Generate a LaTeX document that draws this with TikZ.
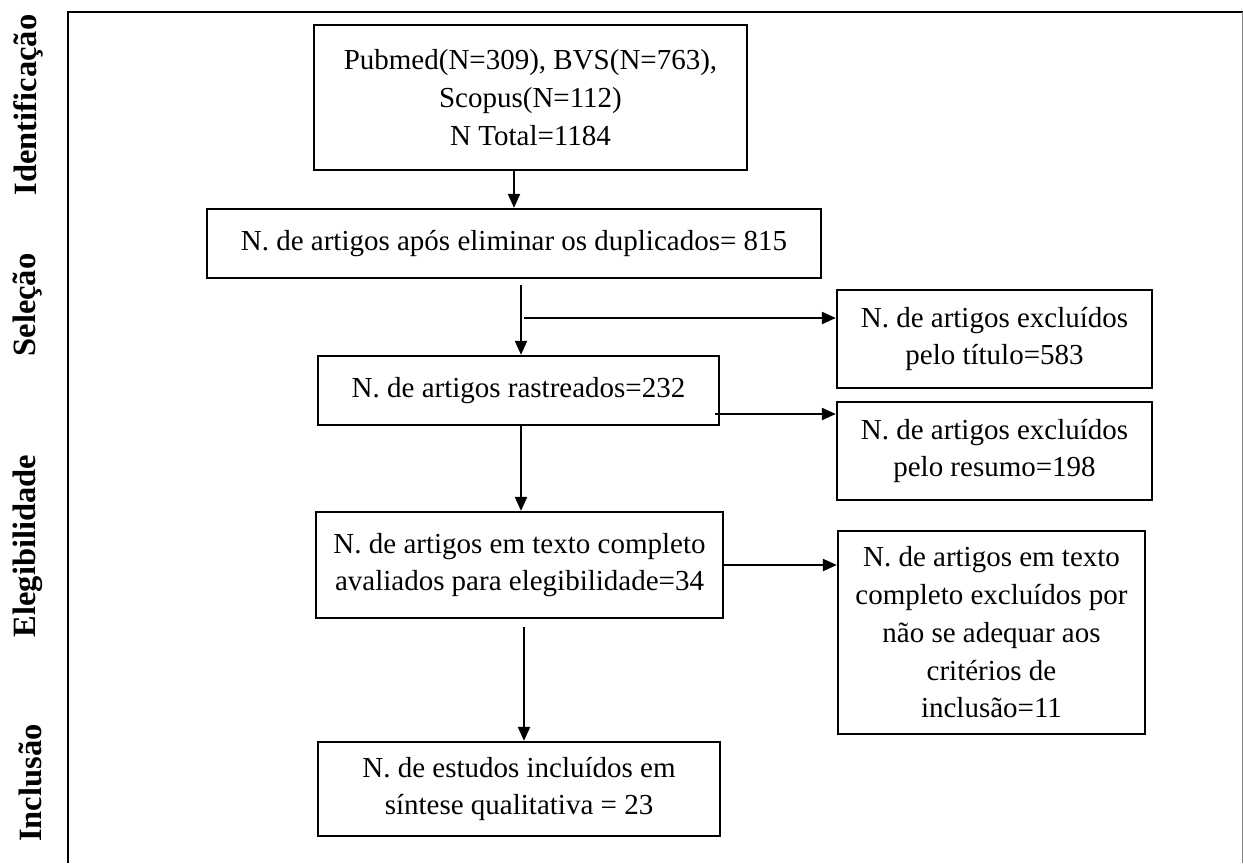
\documentclass[tikz,border=0pt]{standalone}
\usepackage{fontspec}
\setmainfont{Liberation Serif}
\usetikzlibrary{arrows.meta}

\begin{document}
\begin{tikzpicture}[caixa/.style={draw, line width=1.3pt, align=center, inner sep=2pt, font=\fontsize{16.5}{21.5}\selectfont},
	seta/.style={-{Triangle[length=2.8mm,width=2.4mm]}, line width=1.2pt},
	fase/.style={rotate=90, font=\fontsize{18.5}{21}\selectfont\bfseries}]
\useasboundingbox (0,0) rectangle (24.86,-17.26);
\draw [line width=1.4pt] (1.36,-17.26) -- (1.36,-0.24) -- (24.86,-0.24);
\draw [gray, line width=0.4pt] (24.84,-0.24) -- (24.84,-17.26);

% fases
\node[fase] (f1) at (0.56,-2.10) {Identificação};
\node[fase] (f2) at (0.56,-6.10) {Seleção};
\node[fase] (f3) at (0.56,-10.92) {Elegibilidade};
\node[fase] (f4) at (0.60,-15.66) {Inclusão};

% caixas
\node[caixa, minimum width=8.66cm, minimum height=2.9cm] (ident) at (10.61,-1.95) {Pubmed(N=309), BVS(N=763),\\ Scopus(N=112)\\ N Total=1184};
\node[caixa, minimum width=12.28cm, minimum height=1.38cm] (dupl) at (10.28,-4.87) {N. de artigos após eliminar os duplicados= 815};
\node[caixa, minimum width=8.02cm, minimum height=1.38cm] (rastr) at (10.37,-7.81) {N. de artigos rastreados=232};
\node[caixa, minimum width=8.14cm, minimum height=2.12cm] (aval) at (10.39,-11.30) {N. de artigos em texto completo\\ avaliados para elegibilidade=34};
\node[caixa, minimum width=8.04cm, minimum height=1.88cm] (incl) at (10.38,-15.78) {N. de estudos incluídos em\\ síntese qualitativa = 23};

\node[caixa, minimum width=6.30cm, minimum height=1.96cm] (exc1) at (19.89,-6.78) {N. de artigos excluídos\\ pelo título=583};
\node[caixa, minimum width=6.30cm, minimum height=1.96cm] (exc2) at (19.89,-9.02) {N. de artigos excluídos\\ pelo resumo=198};
\node[caixa, minimum width=6.14cm, minimum height=4.06cm] (exc3) at (19.83,-12.65) {N. de artigos em texto\\ completo excluídos por\\ não se adequar aos\\ critérios de\\ inclusão=11};

% setas
\coordinate (a0) at (10.28,-3.40);
\coordinate (a1) at (10.42,-5.70);
\coordinate (a2) at (10.42,-8.50);
\coordinate (a3) at (10.48,-12.54);
\coordinate (b1) at (10.48,-6.36);
\coordinate (b2) at (14.30,-8.28);
\draw[seta] (a0) -- (a0 |- dupl.north);
\draw[seta] (a1) -- (a1 |- rastr.north);
\draw[seta] (a2) -- (a2 |- aval.north);
\draw[seta] (a3) -- (a3 |- incl.north);
\draw[seta] (b1) -- (b1 -| exc1.west);
\draw[seta] (b2) -- (b2 -| exc2.west);
\draw[seta] (aval.east) -- (aval.east -| exc3.west);
\end{tikzpicture}
\end{document}
